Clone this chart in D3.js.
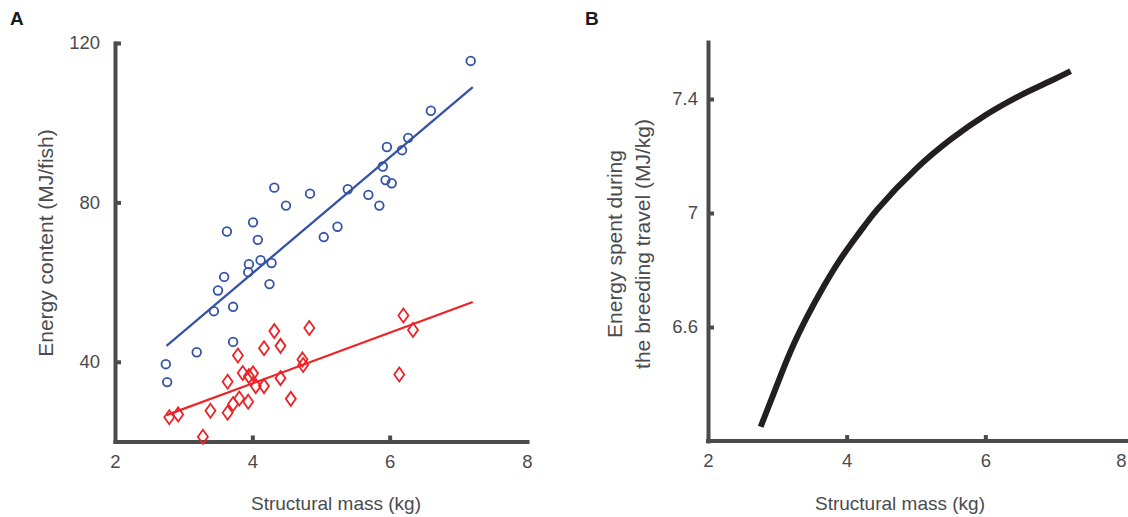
<!DOCTYPE html>
<html>
<head>
<meta charset="utf-8">
<script src="https://cdn.jsdelivr.net/npm/d3@7"></script>
<style>
  body { margin: 0; background: #fff; }
  svg { display: block; font-family: "Liberation Sans", Arial, sans-serif; }
</style>
</head>
<body>
<svg id="chart" width="1128" height="517"></svg>
<script>
// ---------- Data ----------
// Panel A: blue circles (energy content, upper group)
const blueX = [2.74, 2.76, 3.19, 3.44, 3.50, 3.59, 3.63, 3.72, 3.72, 3.94, 3.95, 4.01, 4.08, 4.12, 4.25, 4.28,
               4.32, 4.49, 4.84, 5.04, 5.24, 5.39, 5.69, 5.85, 5.90, 5.94, 5.96, 6.03, 6.18, 6.27, 6.60, 7.18];
const blueY = [39.4, 34.9, 42.4, 52.7, 57.9, 61.3, 72.7, 53.8, 45.0, 62.5, 64.5, 75.0, 70.6, 65.5, 59.5, 64.8,
               83.7, 79.2, 82.2, 71.3, 73.9, 83.3, 81.9, 79.2, 89.0, 85.6, 93.9, 84.8, 93.1, 96.2, 103.0, 115.5];
// Panel A: red diamonds (lower group)
const redX = [2.79, 2.92, 3.28, 3.39, 3.64, 3.64, 3.72, 3.79, 3.81, 3.86, 3.94, 3.95, 4.01, 4.05, 4.17, 4.17,
              4.32, 4.41, 4.41, 4.56, 4.73, 4.74, 4.83, 6.14, 6.20, 6.34];
const redY = [26.1, 26.8, 21.2, 27.7, 35.0, 27.2, 29.4, 41.6, 30.8, 37.2, 30.0, 36.4, 37.1, 33.9, 33.9, 43.4,
              47.7, 44.0, 35.9, 30.7, 40.6, 39.2, 48.5, 36.8, 51.6, 48.0];
// Panel A: fitted regression lines (end points)
const fitX = [2.75, 7.21];
const blueFit = [44.0, 108.9];
const redFit = [26.6, 55.0];
// Panel B: curve
const curveX = [2.76, 2.94, 3.19, 3.43, 3.67, 3.91, 4.15, 4.44, 5.0, 5.5, 6.0, 6.5, 7.0, 7.23];
const curveY = [6.250, 6.362, 6.514, 6.636, 6.743, 6.838, 6.920, 7.012, 7.155, 7.258, 7.343, 7.412, 7.470, 7.498];
// Ticks
const xTicks = [2, 4, 6, 8];
const yTicksA = [40, 80, 120];
const yTicksB = [6.6, 7.0, 7.4];

// ---------- Drawing ----------
const svg = d3.select("#chart");
const axisColor = "#4b4b4d";
const textColor = "#4b4b4d";

function styleAxis(g) {
  g.select(".domain").attr("stroke", axisColor).attr("stroke-width", 4).attr("stroke-linecap", "square");
  g.selectAll(".tick line").attr("stroke", axisColor).attr("stroke-width", 4);
  g.selectAll(".tick text").attr("fill", textColor).attr("font-size", 18.5)
    .attr("font-family", "Liberation Sans, Arial, sans-serif");
}

// ----- Panel A -----
const xA = d3.scaleLinear().domain([2, 8]).range([115, 527]);
const yA = d3.scaleLinear().domain([20, 120]).range([441.5, 43]);

svg.append("g").attr("transform", `translate(0,${yA(20)})`)
  .call(d3.axisBottom(xA).tickValues(xTicks).tickFormat(d3.format("d")).tickSize(-6).tickSizeOuter(0).tickPadding(13))
  .call(styleAxis)
  .call(g => g.selectAll(".tick").filter(d => d === 2 || d === 8).select("line").remove());

svg.append("g").attr("transform", `translate(${xA(2)},0)`)
  .call(d3.axisLeft(yA).tickValues(yTicksA).tickFormat(d3.format("d")).tickSize(-6).tickSizeOuter(0).tickPadding(15))
  .call(styleAxis);

// fit lines
const fitLine = (ys, color) => svg.append("line")
  .attr("x1", xA(fitX[0])).attr("y1", yA(ys[0]))
  .attr("x2", xA(fitX[1])).attr("y2", yA(ys[1]))
  .attr("stroke", color).attr("stroke-width", 2.3);
fitLine(blueFit, "#3553a5");
fitLine(redFit, "#ec2227");

// blue circles
svg.append("g").selectAll("circle").data(d3.range(blueX.length)).join("circle")
  .attr("cx", i => xA(blueX[i])).attr("cy", i => yA(blueY[i])).attr("r", 4.3)
  .attr("fill", "none").attr("stroke", "#3553a5").attr("stroke-width", 1.8);

// red diamonds
const dw = 5, dh = 7;
svg.append("g").selectAll("path").data(d3.range(redX.length)).join("path")
  .attr("d", i => {
    const cx = xA(redX[i]), cy = yA(redY[i]);
    return `M${cx},${cy - dh}L${cx + dw},${cy}L${cx},${cy + dh}L${cx - dw},${cy}Z`;
  })
  .attr("fill", "none").attr("stroke", "#ec2227").attr("stroke-width", 1.8);

// labels A
svg.append("text").attr("x", 10).attr("y", 25).text("A")
  .attr("font-size", 19).attr("font-weight", "bold").attr("fill", "#1a1a1a");
svg.append("text").attr("x", 336).attr("y", 510).attr("text-anchor", "middle")
  .text("Structural mass (kg)").attr("font-size", 19).attr("fill", textColor);
svg.append("text").attr("transform", "translate(53,243) rotate(-90)").attr("text-anchor", "middle")
  .text("Energy content (MJ/fish)").attr("font-size", 21).attr("fill", textColor);

// ----- Panel B -----
const xB = d3.scaleLinear().domain([2, 8]).range([708, 1124]);
const yB = d3.scaleLinear().domain([6.2, 7.6]).range([441, 42]);

svg.append("g").attr("transform", `translate(0,${yB(6.2)})`)
  .call(d3.axisBottom(xB).tickValues(xTicks).tickFormat(d3.format("d")).tickSize(-6).tickSizeOuter(0).tickPadding(13))
  .call(styleAxis)
  .call(g => g.select(".domain").attr("d", `M708,0H1128`))
  .call(g => g.selectAll(".tick").filter(d => d === 2 || d === 8).select("line").remove())
  .call(g => g.selectAll(".tick").filter(d => d === 8).select("text").attr("x", -3));

svg.append("g").attr("transform", `translate(${xB(2)},0)`)
  .call(d3.axisLeft(yB).tickValues(yTicksB).tickFormat(d => d === 7 ? "7" : d3.format(".1f")(d))
        .tickSize(-6).tickSizeOuter(0).tickPadding(10))
  .call(styleAxis);

svg.append("path")
  .datum(d3.range(curveX.length))
  .attr("d", d3.line().x(i => xB(curveX[i])).y(i => yB(curveY[i])).curve(d3.curveCatmullRom))
  .attr("fill", "none").attr("stroke", "#231f20").attr("stroke-width", 6);

svg.append("text").attr("x", 585).attr("y", 25).text("B")
  .attr("font-size", 19).attr("font-weight", "bold").attr("fill", "#1a1a1a");
svg.append("text").attr("x", 900).attr("y", 510).attr("text-anchor", "middle")
  .text("Structural mass (kg)").attr("font-size", 19).attr("fill", textColor);
svg.append("text").attr("transform", "translate(622,244) rotate(-90)").attr("text-anchor", "middle")
  .text("Energy spent during").attr("font-size", 21).attr("fill", textColor);
svg.append("text").attr("transform", "translate(650,244) rotate(-90)").attr("text-anchor", "middle")
  .text("the breeding travel (MJ/kg)").attr("font-size", 21).attr("fill", textColor);
</script>
</body>
</html>
